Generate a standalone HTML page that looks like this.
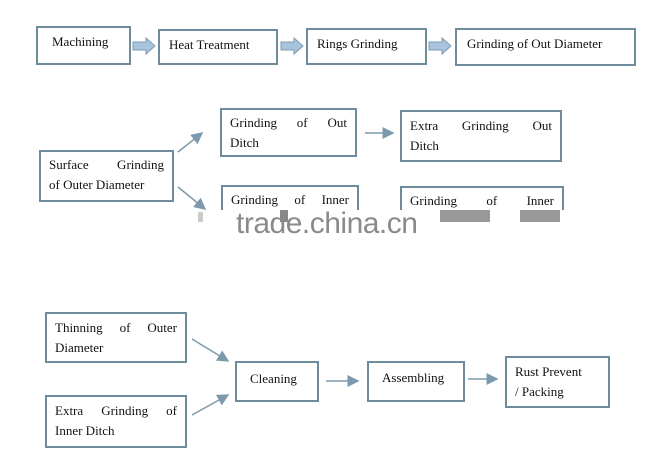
<!DOCTYPE html>
<html><head><style>
body{margin:0;width:672px;height:472px;background:#fff;position:relative;overflow:hidden;font-family:"Liberation Serif",serif;font-size:13px;color:#111}
.b{position:absolute;border:2px solid #6f8c9c;box-sizing:border-box;padding:4px 8px;line-height:20px}
.j{text-align:justify;text-align-last:justify}
.j2{text-align:justify}
svg{position:absolute;left:0;top:0}
</style></head><body>
<svg width="672" height="472">
<defs><marker id="a" markerWidth="8" markerHeight="8" refX="7" refY="4" orient="auto"><path d="M0,0L8,4L0,8z" fill="#7c9aab"/></marker></defs>
<g fill="#a8c4dc" stroke="#7f9bb0" stroke-width="1">
<path d="M133,42h13v-4l9,8l-9,8v-4h-13z"/>
<path d="M281,42h13v-4l9,8l-9,8v-4h-13z"/>
<path d="M429,42h13v-4l9,8l-9,8v-4h-13z"/>
</g>
<g stroke="#7c9aab" stroke-width="1.5" marker-end="url(#a)">
<line x1="178" y1="152" x2="202" y2="133"/>
<line x1="178" y1="187" x2="205" y2="209"/>
<line x1="365" y1="133" x2="393" y2="133"/>
<line x1="192" y1="339" x2="228" y2="361"/>
<line x1="192" y1="415" x2="228" y2="395"/>
<line x1="326" y1="381" x2="358" y2="381"/>
<line x1="468" y1="379" x2="497" y2="379"/>
</g>
</svg>
<div class="b" style="left:36px;top:26px;width:95px;height:39px;padding-left:14px">Machining</div>
<div class="b" style="left:158px;top:29px;width:120px;height:36px;padding-left:9px">Heat Treatment</div>
<div class="b" style="left:306px;top:28px;width:121px;height:37px;padding-left:9px">Rings Grinding</div>
<div class="b" style="left:455px;top:28px;width:181px;height:38px;padding-left:10px">Grinding of Out Diameter</div>
<div class="b" style="left:39px;top:150px;width:135px;height:52px;padding-top:3px"><div class="j">Surface Grinding</div>of Outer Diameter</div>
<div class="b" style="left:220px;top:108px;width:137px;height:49px;padding-top:3px"><div class="j">Grinding of Out</div>Ditch</div>
<div class="b" style="left:400px;top:110px;width:162px;height:52px;padding-top:4px"><div class="j">Extra Grinding Out</div>Ditch</div>
<div class="b" style="left:221px;top:185px;width:138px;height:40px;padding-top:3px"><div class="j">Grinding of Inner</div></div>
<div class="b" style="left:400px;top:186px;width:164px;height:40px;padding-top:3px"><div class="j">Grinding of Inner</div></div>
<div style="position:absolute;left:0;top:210px;width:672px;height:32px;background:#fff"></div>
<div style="position:absolute;left:198px;top:212px;width:5px;height:10px;background:#ccc"></div>
<div style="position:absolute;left:280px;top:210px;width:8px;height:12px;background:#888"></div>
<div style="position:absolute;left:440px;top:210px;width:50px;height:12px;background:#999"></div>
<div style="position:absolute;left:520px;top:210px;width:40px;height:12px;background:#999"></div>
<div style="position:absolute;left:236px;top:207px;font-family:'Liberation Sans',sans-serif;font-size:30px;color:#8a8a8a;letter-spacing:-0.5px">trade.china.cn</div>
<div class="b" style="left:45px;top:312px;width:142px;height:51px;padding-top:4px"><div class="j">Thinning of Outer</div>Diameter</div>
<div class="b" style="left:45px;top:395px;width:142px;height:53px;padding-top:4px"><div class="j">Extra Grinding of</div>Inner Ditch</div>
<div class="b" style="left:235px;top:361px;width:84px;height:41px;padding-left:13px;padding-top:6px">Cleaning</div>
<div class="b" style="left:367px;top:361px;width:98px;height:41px;padding-left:13px;padding-top:5px">Assembling</div>
<div class="b" style="left:505px;top:356px;width:105px;height:52px;padding-top:4px">Rust Prevent<br>/ Packing</div>
</body></html>
